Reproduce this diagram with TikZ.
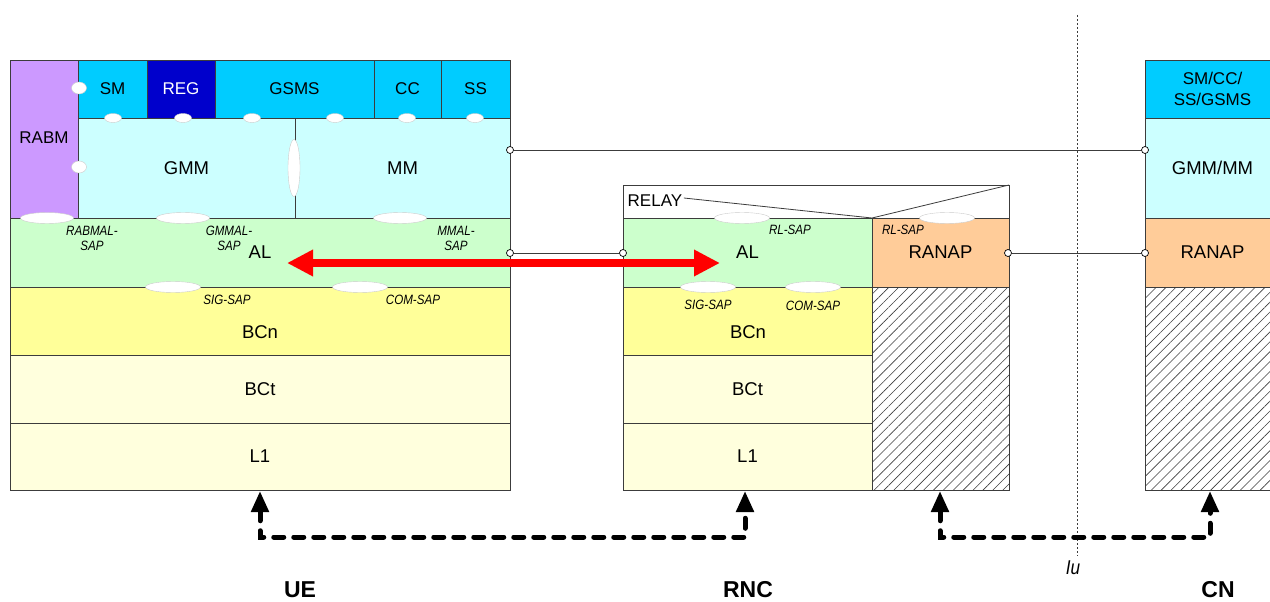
\documentclass[tikz,border=0pt]{standalone}
\usepackage{fontspec}
\setmainfont{Liberation Sans}
\newfontfamily\sapfont[FakeStretch=0.86]{Liberation Sans}
\usetikzlibrary{arrows.meta,shapes.geometric,patterns.meta}
\definecolor{rabmc}{RGB}{204,153,255}
\definecolor{topc}{RGB}{0,204,255}
\definecolor{regc}{RGB}{0,0,204}
\definecolor{mmc}{RGB}{204,255,255}
\definecolor{alc}{RGB}{204,255,204}
\definecolor{bcnc}{RGB}{255,255,153}
\definecolor{bctc}{RGB}{255,255,221}
\definecolor{ranapc}{RGB}{255,204,153}
\definecolor{edge}{RGB}{60,60,60}
\begin{document}
\begin{tikzpicture}[x=1pt,y=-1pt,
  box/.style={draw=edge,line width=0.8pt,anchor=north west,inner sep=0pt,outer sep=0pt,font=\fontsize{18.5}{22}\selectfont},
  topbox/.style={box,fill=topc,minimum height=58pt,font=\fontsize{17}{21}\selectfont},
  hatch/.style={box,pattern={Lines[angle=45,distance=7pt,line width=0.6pt]},pattern color=edge},
  lbl/.style={font=\fontsize{18.5}{22}\selectfont},
  sap/.style={ellipse,draw=black!20,fill=white,inner sep=0pt,minimum width=53pt,minimum height=11pt},
  sapdot/.style={sap,minimum width=15pt,minimum height=12pt},
  sapsm/.style={sap,minimum width=17pt,minimum height=9pt},
  saptxt/.style={font=\fontsize{13.5}{15}\sapfont\itshape,align=center,inner sep=0pt},
  port/.style={circle,draw=black,fill=white,line width=0.7pt,minimum size=7pt,inner sep=0pt},
  wire/.style={draw=edge,line width=0.8pt},
  bus/.style={line width=5pt,dash pattern=on 10pt off 10pt,line cap=round,{Triangle[length=21pt,width=17pt]}-{Triangle[length=21pt,width=17pt]}},
  title/.style={font=\fontsize{23}{26}\selectfont\bfseries}]
  \useasboundingbox (0,0) rectangle (1270,602);

  \node[box,fill=rabmc,minimum width=68pt,minimum height=158pt] (rabm) at (10,60) {};
  \node[font=\fontsize{17}{20}\selectfont] (rabmtxt) at (44,138) {RABM};
  \node[topbox,minimum width=69pt] (sm) at (78,60) {SM};
  \node[topbox,minimum width=68pt,fill=regc,text=white] (reg) at (147,60) {REG};
  \node[topbox,minimum width=159pt] (gsms) at (215,60) {GSMS};
  \node[topbox,minimum width=67pt] (cc) at (374,60) {CC};
  \node[topbox,minimum width=69pt] (ss) at (441,60) {SS};
  \node[box,fill=mmc,minimum width=217pt,minimum height=100pt] (gmm) at (78,118) {GMM};
  \node[box,fill=mmc,minimum width=215pt,minimum height=100pt] (mm) at (295,118) {MM};
  \node[box,fill=alc,minimum width=500pt,minimum height=69pt] (ueal) at (10,218) {AL};
  \node[box,fill=bcnc,minimum width=500pt,minimum height=68pt] (uebcn) at (10,287) {};
  \node[lbl] (uebcntxt) at (260,332) {BCn};
  \node[box,fill=bctc,minimum width=500pt,minimum height=68pt] (uebct) at (10,355) {BCt};
  \node[box,fill=bctc,minimum width=500pt,minimum height=67pt] (uel1) at (10,423) {L1};

  \node[box,fill=white,minimum width=386pt,minimum height=33pt] (relay) at (623,185) {};
  \node[box,fill=alc,minimum width=249pt,minimum height=69pt] (rncal) at (623,218) {AL};
  \node[box,fill=ranapc,minimum width=137pt,minimum height=69pt] (rncranap) at (872,218) {RANAP};
  \node[inner sep=1.5pt,anchor=west,font=\fontsize{17}{20}\selectfont] (relaytxt) at (626,201) {RELAY};
  \draw[wire] ([yshift=3pt]relaytxt.east) -- (rncal.north east) -- (relay.north east);
  \node[box,fill=bcnc,minimum width=249pt,minimum height=68pt] (rncbcn) at (623,287) {};
  \node[lbl] (rncbcntxt) at (748,332) {BCn};
  \node[box,fill=bctc,minimum width=249pt,minimum height=68pt] (rncbct) at (623,355) {BCt};
  \node[box,fill=bctc,minimum width=249pt,minimum height=67pt] (rncl1) at (623,423) {L1};
  \node[hatch,minimum width=137pt,minimum height=203pt] (rnchatch) at (872,287) {};

  \node[topbox,minimum width=135pt,align=center] (cntop) at (1145,60) {SM/CC/\\SS/GSMS};
  \node[box,fill=mmc,minimum width=135pt,minimum height=100pt] (cnmm) at (1145,118) {GMM/MM};
  \node[box,fill=ranapc,minimum width=135pt,minimum height=69pt] (cnranap) at (1145,218) {RANAP};
  \node[hatch,minimum width=135pt,minimum height=203pt] (cnhatch) at (1145,287) {};

  \node[sapdot] (sapsm) at (79,88) {};
  \node[sapdot] (saprabm) at (79,167) {};
  \node[sapsm] (sapa) at (113,118) {};
  \node[sapsm] (sapb) at (183,118) {};
  \node[sapsm] (sapc) at (252,118) {};
  \node[sapsm] (sapd) at (335,118) {};
  \node[sapsm] (sape) at (407,118) {};
  \node[sapsm] (sapf) at (475,118) {};
  \node[sap,minimum width=12pt,minimum height=57pt] (sapmid) at (294,168) {};
  \node[sap] (rabmal) at (47,218) {};
  \node[sap] (gmmal) at (183,218) {};
  \node[sap] (mmal) at (400,218) {};
  \node[sap,minimum width=55pt] (uesig) at (173,287) {};
  \node[sap,minimum width=55pt] (uecom) at (360,287) {};
  \node[sap,minimum width=55pt] (rlsapa) at (742,218) {};
  \node[sap,minimum width=55pt] (rlsapb) at (947,218) {};
  \node[sap,minimum width=55pt] (rncsig) at (708,287) {};
  \node[sap,minimum width=55pt] (rnccom) at (813,287) {};

  \node[saptxt] (rabmaltxt) at (92,238) {RABMAL-\\SAP};
  \node[saptxt] (gmmaltxt) at (229,238) {GMMAL-\\SAP};
  \node[saptxt] (mmaltxt) at (456,238) {MMAL-\\SAP};
  \node[saptxt] (uesigtxt) at (227,300) {SIG-SAP};
  \node[saptxt] (uecomtxt) at (413,300) {COM-SAP};
  \node[saptxt] (rlsapatxt) at (790,230) {RL-SAP};
  \node[saptxt] (rlsapbtxt) at (903,230) {RL-SAP};
  \node[saptxt] (rncsigtxt) at (708,305) {SIG-SAP};
  \node[saptxt] (rnccomtxt) at (813,306) {COM-SAP};

  \draw[draw=edge,line width=0.6pt,dash pattern=on 2pt off 2pt] (1077,15) -- (1077,556);
  \node[font=\fontsize{20}{22}\sapfont\itshape] (iu) at (1073,568) {Iu};

  \node[port] (ueP1) at (510,150) {};
  \node[port] (ueP2) at (510,253) {};
  \node[port] (rncP1) at (623,253) {};
  \node[port] (rncP2) at (1008,253) {};
  \node[port] (cnP1) at (1145,150) {};
  \node[port] (cnP2) at (1145,253) {};
  \draw[wire] (ueP1) -- (cnP1);
  \draw[wire] (ueP2) -- (rncP1);
  \draw[wire] (rncP2) -- (cnP2);

  \coordinate (alA) at (287,263);
  \coordinate (alB) at (720,263);
  \draw[red,line width=8pt,{Triangle[length=26pt,width=25pt]}-{Triangle[length=26pt,width=25pt]}] (alA) -- (alB);

  \coordinate (ueB) at (260,491);
  \coordinate (rncB) at (745,491);
  \coordinate (ranB) at (940,491);
  \coordinate (cnB) at (1210,491);
  \draw[bus] (ueB) -- ++(0,46) -| (rncB);
  \draw[bus] (ranB) -- ++(0,46) -| (cnB);

  \node[title] (ue) at (300,590) {UE};
  \node[title] (rnc) at (748,590) {RNC};
  \node[title] (cn) at (1218,590) {CN};
\end{tikzpicture}
\end{document}
